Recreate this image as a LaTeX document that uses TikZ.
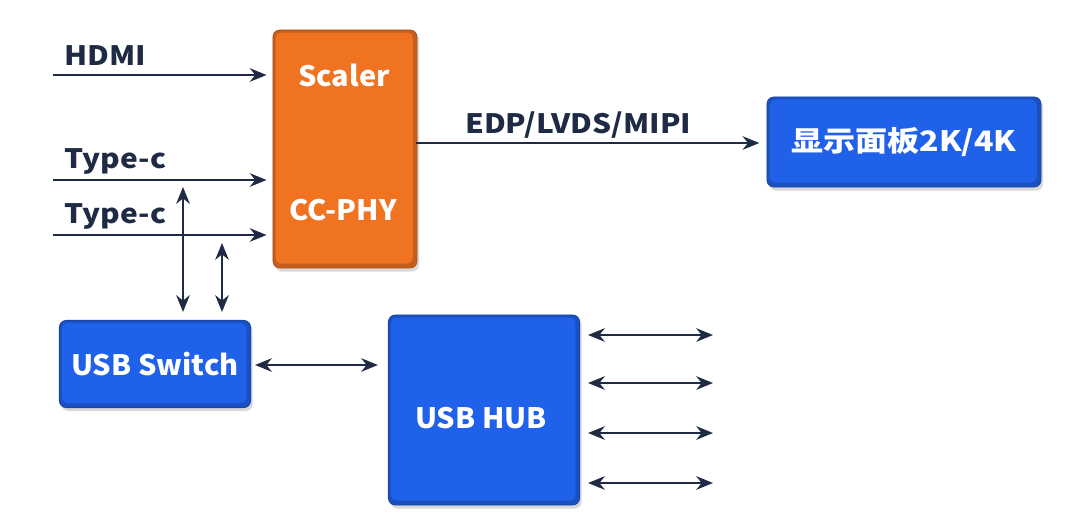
\documentclass[tikz,border=0pt]{standalone}
\usepackage{fontspec}
\setmainfont{Noto Sans CJK SC}
\newfontfamily\sigfont{Noto Sans CJK SC}[FakeStretch=1.12]
\newfontfamily\boxfont{Noto Sans CJK SC}[FakeStretch=1.03]
\newfontfamily\panelfont{Noto Sans CJK SC}[FakeStretch=1.14]
\usepackage{tikz}
\usetikzlibrary{arrows.meta,positioning,calc,shadows}
\definecolor{wirecolor}{RGB}{31,43,69}
\definecolor{chipcolor}{RGB}{240,115,34}
\definecolor{blkcolor}{RGB}{32,97,234}
\tikzset{
  blockbox/.style={rounded corners=5pt, fill=#1!82!black, draw=#1!72!black, line width=0.6pt,
    drop shadow={shadow xshift=1.5pt, shadow yshift=-2.5pt, opacity=0.3},
    path picture={\fill[#1, rounded corners=4pt]
      ([shift={(1.8pt,-1.8pt)}]path picture bounding box.north west) rectangle
      ([shift={(-3pt,3.2pt)}]path picture bounding box.south east);},
    text=white, font=\boxfont\bfseries\fontsize{20}{24}\selectfont, inner sep=0pt},
  boxlab/.style={text=white, font=\boxfont\bfseries\fontsize{20}{24}\selectfont, inner sep=0pt},
  siglab/.style={wirecolor, font=\sigfont\bfseries\fontsize{19}{22}\selectfont, inner sep=0pt, anchor=base west},
  sigln/.style={-{Stealth[length=4.2mm,width=3.4mm]}, line width=1.4pt, wirecolor},
  busln/.style={{Stealth[length=4.2mm,width=3.4mm]}-{Stealth[length=4.2mm,width=3.4mm]}, line width=1.4pt, wirecolor},
}

\begin{document}
\begin{tikzpicture}[x=0.025cm, y=-0.025cm]
    \useasboundingbox (0,0) rectangle (1080,527);
    % blocks
    \node[blockbox=chipcolor, minimum width=3.6cm, minimum height=5.95cm] (scaler) at (345,149) {};
    \node[boxlab, anchor=base] (scalerlab) at (344,86) {Scaler};
    \node[boxlab, anchor=base] (phylab) at (343,220) {CC-PHY};
    \node[blockbox=blkcolor, minimum width=6.85cm, minimum height=2.25cm,
      font=\panelfont\bfseries\fontsize{20}{24}\selectfont] (panel) at (904,142)
      {显示面板2K/4K};
    \node[blockbox=blkcolor, minimum width=4.78cm, minimum height=2.18cm] (usbsw) at (155,364)
      {USB Switch};
    \node[blockbox=blkcolor, minimum width=4.78cm, minimum height=4.75cm] (usbhub) at (484,410) {};
    \node[boxlab, anchor=base] (hublab) at (481,428) {USB HUB};

    % inputs
    \coordinate (hdmiin) at (53,75);
    \coordinate (tcain) at (53,180);
    \coordinate (tcbin) at (53,235);
    \foreach \c in {hdmiin, tcain, tcbin}
      \draw[sigln, shorten >=0.15cm] (\c) -- (\c -| scaler.west);
    \node[siglab] (hdmilab) at (64,65) {HDMI};
    \node[siglab] (tcalab) at (64,168) {Type-c};
    \node[siglab] (tcblab) at (64,223) {Type-c};

    % cc lines to the switch
    \coordinate (tcadn) at (183,187);
    \coordinate (tcbdn) at (222,243);
    \foreach \c in {tcadn, tcbdn}
      \draw[busln, shorten >=0.2cm] (\c) -- (\c |- usbsw.north);

    % video out
    \coordinate (vidout) at (416,143);
    \draw[sigln, shorten >=0.18cm] (vidout) -- (vidout -| panel.west);
    \node[siglab] (vidlab) at (465,133) {EDP/LVDS/MIPI};

    % usb
    \draw[busln, shorten <=0.1cm, shorten >=0.25cm] (usbsw.east |- 0,365) -- (usbhub.west |- 0,365);
    \foreach \y [count=\i] in {335,383,433,483} {
      \coordinate (port\i) at (713,\y);
      \draw[busln, shorten <=0.2cm] (usbhub.east |- port\i) -- (port\i);
    }
\end{tikzpicture}
\end{document}
